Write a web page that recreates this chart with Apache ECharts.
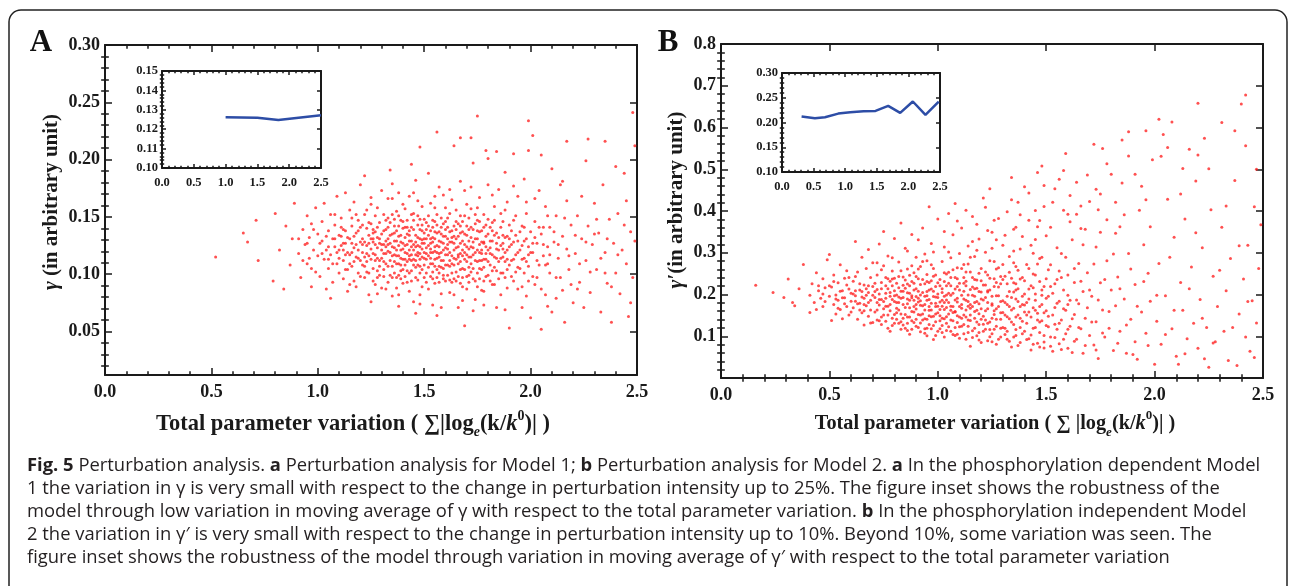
<!DOCTYPE html>
<html>
<head>
<meta charset="utf-8">
<script src="https://cdn.jsdelivr.net/npm/echarts@6/dist/echarts.min.js"></script>
<style>
  html, body { margin: 0; padding: 0; background: #fff; }
  #chart { width: 1290px; height: 586px; }
</style>
</head>
<body>
<div id="chart"></div>
<script>
// ---- data ----
// panel A: gamma vs total parameter variation (estimated cloud, outer part)
const scatterAEdge = [
  [0.52,0.115],[0.65,0.136],[0.67,0.128],[0.71,0.147],[0.72,0.112],[0.79,0.094],[0.80,0.153],[0.82,0.121],[0.84,0.087],[0.85,0.142],[0.87,0.108],[0.88,0.131],[0.89,0.162],
  [0.91,0.118],[0.92,0.097],[0.93,0.139],[0.94,0.126],[0.95,0.151],[0.95,0.109],[0.96,0.132],[0.97,0.089],[0.97,0.144],[0.98,0.121],[0.99,0.102],[0.99,0.158],[1.00,0.135],[0.96,0.114],
  [1.01,0.127],[1.01,0.098],[1.02,0.146],[1.03,0.113],[1.03,0.162],[1.04,0.121],[1.04,0.087],[1.05,0.138],[1.05,0.105],[1.06,0.152],[1.06,0.117],[1.07,0.131],[1.07,0.093],[1.08,0.143],[1.08,0.124],[1.09,0.109],[1.09,0.168],[1.10,0.134],[1.10,0.101],[1.02,0.129],[1.06,0.079],[1.09,0.119],
  [1.11,0.125],[1.11,0.149],[1.12,0.112],[1.12,0.096],[1.13,0.138],[1.13,0.171],[1.14,0.119],[1.14,0.085],[1.15,0.131],[1.15,0.156],[1.16,0.107],[1.16,0.142],[1.17,0.123],[1.17,0.094],[1.17,0.163],[1.18,0.115],[1.18,0.136],[1.19,0.101],[1.19,0.147],[1.20,0.128],[1.20,0.178],[1.11,0.133],[1.13,0.117],[1.15,0.091],[1.16,0.127],[1.18,0.152],[1.19,0.121],[1.12,0.139],[1.14,0.104],[1.20,0.112],
  [1.21,0.119],[1.21,0.143],[1.22,0.097],[1.22,0.128],[1.23,0.156],[1.23,0.111],[1.24,0.134],[1.24,0.082],[1.25,0.122],[1.25,0.167],[1.26,0.105],[1.26,0.139],[1.27,0.126],[1.27,0.091],[1.27,0.151],[1.28,0.114],[1.28,0.132],[1.29,0.099],[1.29,0.145],[1.30,0.121],[1.30,0.173],[1.21,0.108],[1.22,0.186],[1.23,0.125],[1.24,0.116],[1.25,0.144],[1.25,0.076],[1.26,0.118],[1.27,0.137],[1.28,0.103],[1.28,0.158],[1.29,0.127],[1.30,0.088],[1.23,0.140],[1.26,0.131],[1.29,0.112],
  [1.31,0.126],[1.31,0.104],[1.31,0.152],[1.32,0.118],[1.32,0.139],[1.33,0.093],[1.33,0.131],[1.33,0.166],[1.34,0.112],[1.34,0.145],[1.35,0.124],[1.35,0.081],[1.35,0.179],[1.36,0.117],[1.36,0.136],[1.36,0.101],[1.37,0.129],[1.37,0.155],[1.38,0.109],[1.38,0.142],[1.38,0.072],[1.39,0.121],[1.39,0.134],[1.39,0.096],[1.40,0.127],[1.40,0.161],[1.40,0.113],[1.32,0.129],[1.32,0.087],[1.34,0.127],[1.34,0.191],[1.35,0.107],[1.36,0.148],[1.37,0.116],[1.37,0.088],[1.38,0.125],[1.38,0.171],[1.39,0.108],[1.31,0.138],[1.33,0.120],[1.36,0.123],[1.40,0.140],
  [1.41,0.119],[1.41,0.132],[1.41,0.098],[1.42,0.147],[1.42,0.111],[1.42,0.126],[1.43,0.085],[1.43,0.138],[1.43,0.168],[1.44,0.117],[1.44,0.129],[1.44,0.103],[1.45,0.153],[1.45,0.121],[1.45,0.076],[1.46,0.134],[1.46,0.112],[1.46,0.182],[1.47,0.125],[1.47,0.095],[1.47,0.143],[1.48,0.118],[1.48,0.131],[1.48,0.107],[1.49,0.159],[1.49,0.122],[1.49,0.089],[1.50,0.136],[1.50,0.114],[1.50,0.127],[1.41,0.157],[1.42,0.093],[1.43,0.121],[1.44,0.141],[1.45,0.108],[1.46,0.124],[1.46,0.066],[1.47,0.164],[1.48,0.139],[1.48,0.082],[1.49,0.115],[1.50,0.148],[1.44,0.196],[1.47,0.116],[1.43,0.113],[1.49,0.130],
  [1.51,0.123],[1.51,0.101],[1.51,0.145],[1.52,0.116],[1.52,0.134],[1.52,0.087],[1.53,0.127],[1.53,0.162],[1.53,0.109],[1.54,0.119],[1.54,0.141],[1.54,0.073],[1.55,0.131],[1.55,0.113],[1.55,0.120],[1.56,0.125],[1.56,0.152],[1.56,0.097],[1.57,0.118],[1.57,0.137],[1.57,0.176],[1.58,0.106],[1.58,0.128],[1.58,0.083],[1.59,0.144],[1.59,0.121],[1.59,0.112],[1.60,0.133],[1.60,0.094],[1.60,0.158],[1.51,0.131],[1.52,0.188],[1.53,0.119],[1.54,0.102],[1.55,0.146],[1.56,0.114],[1.56,0.064],[1.57,0.124],[1.58,0.149],[1.59,0.099],[1.60,0.117],[1.53,0.138],[1.55,0.092],[1.57,0.107],[1.59,0.169],[1.54,0.128],
  [1.61,0.126],[1.61,0.108],[1.61,0.149],[1.62,0.119],[1.62,0.137],[1.62,0.084],[1.63,0.128],[1.63,0.165],[1.63,0.101],[1.64,0.114],[1.64,0.142],[1.64,0.212],[1.65,0.123],[1.65,0.094],[1.65,0.156],[1.66,0.117],[1.66,0.133],[1.66,0.071],[1.67,0.127],[1.67,0.104],[1.67,0.181],[1.68,0.121],[1.68,0.146],[1.68,0.089],[1.69,0.113],[1.69,0.135],[1.69,0.055],[1.70,0.124],[1.70,0.161],[1.70,0.098],[1.61,0.131],[1.62,0.095],[1.63,0.116],[1.64,0.127],[1.65,0.139],[1.66,0.109],[1.67,0.151],[1.68,0.116],[1.69,0.173],[1.70,0.111],[1.64,0.082],[1.67,0.118],
  [1.71,0.122],[1.71,0.139],[1.71,0.093],[1.72,0.115],[1.72,0.157],[1.73,0.128],[1.73,0.105],[1.73,0.197],[1.74,0.119],[1.74,0.144],[1.74,0.078],[1.75,0.131],[1.75,0.111],[1.76,0.126],[1.76,0.167],[1.76,0.096],[1.77,0.118],[1.77,0.138],[1.78,0.106],[1.78,0.152],[1.78,0.085],[1.79,0.124],[1.79,0.113],[1.80,0.135],[1.80,0.099],[1.80,0.178],[1.72,0.132],[1.73,0.068],[1.75,0.147],[1.75,0.089],[1.77,0.121],[1.78,0.128],[1.79,0.143],[1.79,0.208],[1.71,0.106],[1.76,0.112],
  [1.81,0.118],[1.81,0.141],[1.82,0.103],[1.82,0.129],[1.83,0.159],[1.83,0.091],[1.84,0.122],[1.84,0.136],[1.85,0.111],[1.85,0.174],[1.86,0.125],[1.86,0.082],[1.87,0.146],[1.87,0.115],[1.88,0.132],[1.88,0.097],[1.89,0.121],[1.89,0.163],[1.90,0.108],[1.90,0.053],[1.81,0.094],[1.83,0.134],[1.84,0.071],[1.86,0.153],[1.87,0.127],[1.88,0.189],[1.89,0.113],[1.82,0.117],
  [1.91,0.126],[1.91,0.098],[1.92,0.147],[1.92,0.113],[1.93,0.134],[1.94,0.087],[1.94,0.168],[1.95,0.121],[1.95,0.105],[1.96,0.142],[1.96,0.071],[1.97,0.129],[1.97,0.183],[1.98,0.111],[1.98,0.153],[1.99,0.094],[1.99,0.124],[2.00,0.137],[2.00,0.062],[1.93,0.117],[1.97,0.101],[1.99,0.208],
  [2.01,0.119],[2.02,0.146],[2.02,0.091],[2.03,0.127],[2.04,0.173],[2.04,0.108],[2.05,0.052],[2.05,0.135],[2.06,0.116],[2.07,0.159],[2.07,0.082],[2.08,0.124],[2.09,0.101],[2.09,0.141],[2.10,0.067],[2.10,0.192],
  [2.11,0.128],[2.12,0.097],[2.12,0.151],[2.13,0.114],[2.14,0.178],[2.15,0.086],[2.15,0.133],[2.16,0.058],[2.17,0.122],[2.17,0.164],[2.18,0.104],[2.19,0.143],[2.20,0.075],
  [2.21,0.118],[2.22,0.151],[2.23,0.093],[2.24,0.131],[2.25,0.071],[2.26,0.199],[2.26,0.112],[2.27,0.142],[2.28,0.084],[2.29,0.126],[2.30,0.162],
  [2.31,0.104],[2.32,0.136],[2.33,0.067],[2.34,0.178],[2.35,0.119],[2.36,0.092],[2.37,0.148],[2.38,0.058],[2.39,0.127],[2.40,0.101],
  [2.41,0.153],[2.42,0.083],[2.43,0.121],[2.44,0.188],[2.45,0.109],[2.46,0.063],[2.47,0.137],[2.48,0.097],[2.49,0.129],[2.49,0.212],
  [1.56,0.224],[1.99,0.234],[2.01,0.221],[1.67,0.219],[1.72,0.219],[1.48,0.211],[2.27,0.218],[2.35,0.216],[2.17,0.216],[2.40,0.194],[1.75,0.238],[2.48,0.241],[1.84,0.207],[1.92,0.205],[1.80,0.201],[2.05,0.204]
];

// panel A: dense core of the cloud
const scatterACore = [
  [1.02,0.118],[1.04,0.133],[1.05,0.124],[1.07,0.109],[1.08,0.152],[1.10,0.121],[1.11,0.141],[1.12,0.127],[1.13,0.104],[1.14,0.132],[1.15,0.117],[1.16,0.149],[1.17,0.111],[1.18,0.126],[1.19,0.138],[1.20,0.098],[1.21,0.131],[1.22,0.115],[1.22,0.152],[1.23,0.102],[1.24,0.127],[1.24,0.145],[1.25,0.113],[1.26,0.128],[1.26,0.094],[1.27,0.117],[1.28,0.141],[1.28,0.123],[1.29,0.107],[1.30,0.135],[1.30,0.114],
  [1.31,0.098],[1.31,0.118],[1.32,0.147],[1.32,0.109],[1.33,0.126],[1.33,0.141],[1.34,0.099],[1.34,0.119],[1.35,0.135],[1.35,0.152],[1.36,0.111],[1.36,0.129],[1.37,0.097],[1.37,0.138],[1.38,0.116],[1.38,0.133],[1.39,0.147],[1.39,0.103],[1.40,0.122],[1.40,0.092],
  [1.41,0.108],[1.41,0.141],[1.42,0.118],[1.42,0.135],[1.43,0.101],[1.43,0.129],[1.44,0.152],[1.44,0.112],[1.45,0.126],[1.45,0.139],[1.46,0.097],[1.46,0.117],[1.47,0.132],[1.47,0.108],[1.48,0.124],[1.48,0.148],[1.49,0.104],[1.49,0.138],[1.50,0.119],[1.50,0.097],
  [1.51,0.113],[1.51,0.139],[1.52,0.125],[1.52,0.151],[1.53,0.098],[1.53,0.114],[1.54,0.132],[1.54,0.109],[1.55,0.124],[1.55,0.158],[1.56,0.104],[1.56,0.136],[1.57,0.115],[1.57,0.093],[1.58,0.119],[1.58,0.141],[1.59,0.127],[1.59,0.105],[1.60,0.123],[1.60,0.146],
  [1.61,0.099],[1.61,0.117],[1.62,0.128],[1.62,0.153],[1.63,0.109],[1.63,0.138],[1.64,0.121],[1.64,0.096],[1.65,0.131],[1.65,0.113],[1.66,0.144],[1.66,0.124],[1.67,0.092],[1.67,0.136],[1.68,0.105],[1.68,0.129],[1.69,0.119],[1.69,0.151],[1.70,0.134],[1.70,0.087],
  [1.71,0.115],[1.71,0.149],[1.72,0.102],[1.72,0.124],[1.73,0.139],[1.73,0.117],[1.74,0.094],[1.74,0.131],[1.75,0.121],[1.75,0.158],[1.76,0.105],[1.76,0.137],[1.77,0.112],[1.77,0.086],[1.78,0.127],[1.78,0.141],[1.79,0.098],[1.79,0.118],[1.80,0.148],[1.80,0.121],
  [1.81,0.108],[1.81,0.129],[1.82,0.138],[1.82,0.091],[1.83,0.115],[1.83,0.147],[1.84,0.103],[1.84,0.127],[1.85,0.132],[1.85,0.096],[1.86,0.114],[1.86,0.141],[1.87,0.101],[1.87,0.122],[1.88,0.156],[1.88,0.111],[1.89,0.133],[1.89,0.088],[1.90,0.124],[1.90,0.143],
  [1.91,0.112],[1.92,0.128],[1.92,0.094],[1.93,0.151],[1.94,0.119],[1.94,0.106],[1.95,0.137],[1.96,0.125],[1.96,0.089],[1.97,0.114],[1.98,0.131],[1.98,0.163],[1.99,0.107],[2.00,0.119],
  [2.01,0.098],[2.02,0.132],[2.03,0.112],[2.04,0.141],[2.05,0.087],[2.06,0.126],[2.07,0.108],[2.08,0.151],[2.09,0.117],[2.11,0.137],[2.12,0.079],[2.13,0.126],[2.14,0.097],[2.16,0.149],[2.18,0.116],[2.19,0.091],
  [2.21,0.134],[2.23,0.109],[2.24,0.168],[2.26,0.128],[2.28,0.102],[2.31,0.148],[2.33,0.114],[2.36,0.131],[2.38,0.089],[2.41,0.117],[2.44,0.143],[2.47,0.075],
  [0.91,0.131],[0.93,0.112],[0.95,0.127],[0.97,0.105],[0.98,0.139],[1.00,0.116],
  [1.25,0.161],[1.35,0.166],[1.45,0.171],[1.55,0.168],[1.62,0.174],[1.72,0.176],[1.82,0.169],[1.92,0.177],[2.02,0.166],
  [1.38,0.082],[1.48,0.074],[1.58,0.071],[1.68,0.077],[1.78,0.073],[1.88,0.069],[1.98,0.081],[1.28,0.083],[1.18,0.089],[2.08,0.072],
  [2.15,0.181],[2.22,0.087],[2.30,0.135],[2.35,0.101],[2.45,0.164]
];

// panel A: centre of the core, where dots overlap most
const scatterACentre = [
  [1.12,0.121],[1.15,0.109],[1.17,0.133],[1.19,0.114],[1.21,0.126],[1.23,0.118],[1.24,0.101],[1.26,0.136],[1.27,0.112],[1.28,0.097],[1.29,0.131],[1.30,0.126],
  [1.31,0.111],[1.32,0.124],[1.33,0.107],[1.33,0.149],[1.34,0.134],[1.35,0.116],[1.35,0.097],[1.36,0.142],[1.37,0.121],[1.37,0.109],[1.38,0.151],[1.38,0.099],[1.39,0.114],[1.39,0.128],[1.40,0.104],[1.40,0.146],
  [1.41,0.125],[1.41,0.113],[1.42,0.103],[1.42,0.141],[1.43,0.116],[1.43,0.134],[1.44,0.124],[1.44,0.094],[1.45,0.113],[1.45,0.147],[1.46,0.128],[1.46,0.106],[1.47,0.119],[1.47,0.151],[1.48,0.101],[1.48,0.113],[1.49,0.127],[1.49,0.143],[1.50,0.108],[1.50,0.131],
  [1.51,0.118],[1.51,0.093],[1.52,0.106],[1.52,0.142],[1.53,0.131],[1.53,0.122],[1.54,0.096],[1.54,0.147],[1.55,0.107],[1.55,0.137],[1.56,0.119],[1.56,0.143],[1.57,0.101],[1.57,0.129],[1.58,0.112],[1.58,0.135],[1.59,0.096],[1.59,0.133],[1.60,0.108],[1.60,0.139],
  [1.61,0.122],[1.61,0.141],[1.62,0.107],[1.62,0.112],[1.63,0.132],[1.63,0.093],[1.64,0.133],[1.64,0.108],[1.65,0.102],[1.65,0.146],[1.66,0.115],[1.66,0.098],[1.67,0.142],[1.67,0.111],[1.68,0.137],[1.68,0.097],[1.69,0.126],[1.69,0.104],[1.70,0.117],[1.70,0.142],
  [1.71,0.129],[1.71,0.099],[1.72,0.141],[1.72,0.109],[1.73,0.123],[1.73,0.096],[1.74,0.112],[1.74,0.152],[1.75,0.101],[1.75,0.138],[1.76,0.119],[1.76,0.146],[1.77,0.128],[1.77,0.104],[1.78,0.113],[1.78,0.094],[1.79,0.133],[1.80,0.111],
  [1.81,0.123],[1.82,0.145],[1.83,0.106],[1.84,0.114],[1.85,0.121],[1.86,0.101],[1.87,0.134],[1.88,0.119],[1.89,0.104],[1.90,0.131],[1.91,0.138],[1.93,0.102],[1.94,0.129],[1.96,0.113],[1.97,0.141],[1.99,0.117],
  [2.01,0.127],[2.03,0.097],[2.06,0.141],[2.08,0.109],[1.05,0.113],[1.08,0.131],[1.10,0.114],[1.13,0.127],[1.16,0.119],[1.20,0.141],[1.25,0.131],[1.22,0.107]
];

// panel B: gamma' vs total parameter variation (estimated cloud, outer part)
const scatterBEdge = [
  [0.16,0.222],[0.24,0.205],[0.29,0.193],[0.31,0.237],[0.33,0.181],[0.34,0.173],[0.36,0.214],[0.38,0.272],
  [0.41,0.157],[0.41,0.198],[0.42,0.226],[0.43,0.181],[0.44,0.252],[0.44,0.164],[0.45,0.209],[0.46,0.191],[0.47,0.238],[0.47,0.171],[0.48,0.216],[0.49,0.283],[0.50,0.196],
  [0.50,0.296],[0.51,0.138],[0.51,0.218],[0.52,0.176],[0.52,0.247],[0.53,0.199],[0.53,0.153],[0.54,0.228],[0.54,0.186],[0.55,0.271],[0.55,0.164],[0.56,0.209],[0.56,0.142],[0.57,0.239],[0.57,0.192],[0.58,0.171],[0.58,0.257],[0.59,0.213],[0.59,0.151],[0.60,0.184],
  [0.61,0.232],[0.61,0.168],[0.62,0.327],[0.62,0.197],[0.63,0.141],[0.63,0.254],[0.64,0.211],[0.64,0.179],[0.65,0.289],[0.65,0.156],[0.66,0.223],[0.66,0.127],[0.66,0.191],[0.67,0.262],[0.67,0.173],[0.68,0.205],[0.68,0.308],[0.68,0.148],[0.69,0.241],[0.69,0.186],[0.70,0.219],[0.70,0.133],[0.62,0.209],[0.64,0.163],[0.67,0.198],[0.70,0.276],
  [0.71,0.193],[0.71,0.158],[0.72,0.247],[0.72,0.212],[0.73,0.175],[0.73,0.321],[0.73,0.137],[0.74,0.229],[0.74,0.188],[0.75,0.269],[0.75,0.151],[0.75,0.351],[0.76,0.203],[0.76,0.172],[0.77,0.238],[0.77,0.119],[0.77,0.292],[0.78,0.196],[0.78,0.161],[0.78,0.112],[0.79,0.221],[0.79,0.256],[0.79,0.143],[0.80,0.183],[0.80,0.334],[0.80,0.209],[0.72,0.181],[0.74,0.128],[0.76,0.221],[0.78,0.232],
  [0.81,0.167],[0.81,0.227],[0.82,0.194],[0.82,0.131],[0.82,0.278],[0.83,0.371],[0.83,0.208],[0.83,0.153],[0.84,0.242],[0.84,0.176],[0.85,0.119],[0.85,0.215],[0.85,0.311],[0.86,0.189],[0.86,0.146],[0.86,0.261],[0.87,0.203],[0.87,0.105],[0.87,0.168],[0.88,0.231],[0.88,0.344],[0.88,0.137],[0.89,0.186],[0.89,0.252],[0.89,0.158],[0.90,0.214],[0.90,0.124],[0.90,0.289],[0.81,0.199],[0.83,0.117],[0.84,0.143],[0.86,0.225],[0.88,0.197],[0.90,0.176],
  [0.91,0.152],[0.91,0.238],[0.91,0.191],[0.92,0.111],[0.92,0.267],[0.92,0.174],[0.93,0.205],[0.93,0.359],[0.93,0.139],[0.94,0.226],[0.94,0.163],[0.94,0.297],[0.95,0.186],[0.95,0.101],[0.95,0.248],[0.96,0.211],[0.96,0.128],[0.96,0.410],[0.96,0.171],[0.97,0.233],[0.97,0.147],[0.97,0.322],[0.98,0.195],[0.98,0.092],[0.98,0.262],[0.99,0.179],[0.99,0.135],[0.99,0.219],[1.00,0.381],[1.00,0.156],[1.00,0.201],[0.92,0.199],[0.94,0.118],[0.95,0.207],[0.97,0.179],[0.99,0.247],
  [1.01,0.118],[1.01,0.236],[1.01,0.182],[1.02,0.143],[1.02,0.279],[1.02,0.205],[1.03,0.164],[1.03,0.098],[1.03,0.314],[1.04,0.221],[1.04,0.187],[1.04,0.131],[1.05,0.253],[1.05,0.153],[1.05,0.394],[1.06,0.198],[1.06,0.112],[1.06,0.241],[1.07,0.171],[1.07,0.343],[1.07,0.137],[1.08,0.213],[1.08,0.418],[1.08,0.159],[1.09,0.264],[1.09,0.105],[1.09,0.191],[1.10,0.227],[1.10,0.146],[1.10,0.298],[1.02,0.172],[1.04,0.249],[1.06,0.162],[1.08,0.121],[1.09,0.219],[1.03,0.196],
  [1.11,0.176],[1.11,0.124],[1.11,0.359],[1.12,0.208],[1.12,0.151],[1.12,0.272],[1.13,0.093],[1.13,0.232],[1.13,0.186],[1.14,0.139],[1.14,0.316],[1.14,0.199],[1.15,0.167],[1.15,0.076],[1.15,0.254],[1.16,0.218],[1.16,0.113],[1.16,0.387],[1.17,0.181],[1.17,0.143],[1.17,0.291],[1.18,0.235],[1.18,0.101],[1.18,0.162],[1.19,0.207],[1.19,0.333],[1.19,0.128],[1.20,0.189],[1.20,0.262],[1.20,0.085],[1.12,0.241],[1.14,0.172],[1.17,0.214],[1.19,0.154],
  [1.21,0.148],[1.21,0.223],[1.21,0.431],[1.22,0.117],[1.22,0.193],[1.22,0.301],[1.23,0.166],[1.23,0.089],[1.23,0.247],[1.24,0.453],[1.24,0.134],[1.24,0.211],[1.25,0.178],[1.25,0.349],[1.25,0.106],[1.26,0.238],[1.26,0.152],[1.26,0.279],[1.27,0.081],[1.27,0.197],[1.27,0.124],[1.28,0.264],[1.28,0.171],[1.28,0.382],[1.29,0.141],[1.29,0.226],[1.29,0.098],[1.30,0.185],[1.30,0.318],[1.30,0.157],[1.23,0.206],[1.27,0.229],
  [1.31,0.119],[1.31,0.244],[1.32,0.176],[1.32,0.398],[1.32,0.093],[1.33,0.207],[1.33,0.142],[1.33,0.291],[1.34,0.480],[1.34,0.163],[1.34,0.074],[1.35,0.228],[1.35,0.128],[1.35,0.356],[1.36,0.189],[1.36,0.102],[1.36,0.267],[1.37,0.151],[1.37,0.421],[1.37,0.214],[1.38,0.085],[1.38,0.171],[1.38,0.309],[1.39,0.136],[1.39,0.241],[1.39,0.196],[1.40,0.112],[1.40,0.458],[1.40,0.158],[1.36,0.226],
  [1.41,0.272],[1.41,0.181],[1.42,0.094],[1.42,0.213],[1.42,0.378],[1.43,0.146],[1.43,0.067],[1.44,0.249],[1.44,0.168],[1.45,0.332],[1.45,0.121],[1.45,0.201],[1.46,0.492],[1.46,0.083],[1.46,0.155],[1.47,0.231],[1.47,0.109],[1.47,0.286],[1.48,0.508],[1.48,0.176],[1.48,0.137],[1.49,0.411],[1.49,0.219],[1.49,0.072],[1.50,0.191],[1.50,0.126],
  [1.51,0.259],[1.51,0.148],[1.52,0.098],[1.52,0.361],[1.53,0.203],[1.53,0.064],[1.54,0.169],[1.54,0.453],[1.55,0.117],[1.55,0.236],[1.56,0.184],[1.56,0.082],[1.57,0.298],[1.57,0.139],[1.58,0.211],[1.58,0.497],[1.59,0.538],[1.59,0.106],[1.59,0.162],[1.60,0.247],[1.60,0.071],[1.60,0.392],
  [1.61,0.186],[1.61,0.124],[1.62,0.331],[1.62,0.061],[1.63,0.229],[1.63,0.152],[1.64,0.469],[1.64,0.093],[1.65,0.274],[1.65,0.178],[1.66,0.118],[1.66,0.412],[1.67,0.207],[1.67,0.059],[1.68,0.143],[1.68,0.356],[1.69,0.252],[1.70,0.102],
  [1.71,0.196],[1.72,0.560],[1.72,0.079],[1.73,0.314],[1.73,0.135],[1.74,0.047],[1.75,0.228],[1.75,0.441],[1.76,0.550],[1.76,0.163],[1.77,0.098],[1.78,0.281],[1.78,0.379],[1.79,0.119],[1.80,0.211],
  [1.81,0.066],[1.82,0.173],[1.82,0.347],[1.83,0.242],[1.84,0.112],[1.85,0.570],[1.85,0.467],[1.86,0.189],[1.87,0.059],[1.88,0.590],[1.88,0.298],[1.89,0.141],
  [1.91,0.224],[1.91,0.087],[1.92,0.045],[1.93,0.402],[1.94,0.158],[1.95,0.319],[1.96,0.592],[1.96,0.107],[1.97,0.251],[1.98,0.184],[1.99,0.523],
  [2.00,0.033],[2.01,0.136],[2.02,0.620],[2.02,0.274],[2.03,0.081],[2.04,0.583],[2.05,0.197],[2.06,0.428],[2.08,0.613],[2.08,0.118],[2.09,0.337],[2.10,0.052],
  [2.11,0.033],[2.12,0.229],[2.13,0.162],[2.14,0.381],[2.15,0.094],[2.16,0.548],[2.17,0.266],[2.18,0.131],[2.19,0.472],[2.20,0.658],[2.20,0.534],[2.20,0.071],
  [2.21,0.188],[2.22,0.312],[2.23,0.046],[2.24,0.121],[2.25,0.026],[2.26,0.403],[2.27,0.244],[2.28,0.087],[2.29,0.171],
  [2.31,0.361],[2.32,0.112],[2.33,0.209],[2.34,0.042],[2.35,0.286],[2.37,0.592],[2.37,0.473],[2.38,0.030],[2.39,0.153],[2.40,0.656],
  [2.41,0.237],[2.42,0.556],[2.42,0.098],[2.43,0.318],[2.44,0.064],[2.45,0.185],[2.46,0.410],[2.47,0.500],[2.47,0.132],[2.48,0.262],[2.42,0.678]
];

// panel B: dense core and middle of the funnel
const scatterBCore = [
  [0.45,0.221],[0.48,0.183],[0.52,0.231],[0.54,0.167],[0.56,0.192],[0.58,0.223],[0.60,0.158],[0.61,0.201],[0.62,0.243],[0.63,0.178],[0.64,0.226],[0.65,0.194],[0.66,0.161],[0.67,0.214],[0.68,0.181],[0.69,0.132],[0.70,0.198],
  [0.71,0.227],[0.72,0.163],[0.73,0.201],[0.74,0.146],[0.74,0.259],[0.75,0.183],[0.76,0.136],[0.76,0.241],[0.77,0.172],[0.78,0.205],[0.79,0.126],[0.79,0.188],[0.80,0.152],[0.80,0.239],
  [0.81,0.181],[0.81,0.141],[0.82,0.216],[0.82,0.163],[0.83,0.191],[0.83,0.257],[0.84,0.127],[0.84,0.208],[0.85,0.169],[0.85,0.235],[0.86,0.114],[0.86,0.178],[0.87,0.221],[0.87,0.146],[0.88,0.192],[0.88,0.269],[0.89,0.133],[0.89,0.211],[0.90,0.165],[0.90,0.243],
  [0.91,0.121],[0.91,0.182],[0.92,0.224],[0.92,0.151],[0.93,0.173],[0.93,0.279],[0.94,0.107],[0.94,0.196],[0.95,0.141],[0.95,0.231],[0.96,0.162],[0.96,0.188],[0.97,0.118],[0.97,0.213],[0.98,0.148],[0.98,0.244],[0.99,0.171],[0.99,0.102],[1.00,0.193],[1.00,0.228],
  [1.01,0.137],[1.01,0.164],[1.02,0.214],[1.02,0.109],[1.03,0.181],[1.03,0.252],[1.04,0.147],[1.04,0.199],[1.05,0.123],[1.05,0.227],[1.06,0.172],[1.06,0.288],[1.07,0.104],[1.07,0.203],[1.08,0.158],[1.08,0.241],[1.09,0.133],[1.09,0.182],[1.10,0.211],[1.10,0.095],
  [1.11,0.167],[1.11,0.262],[1.12,0.128],[1.12,0.189],[1.13,0.146],[1.13,0.221],[1.14,0.109],[1.14,0.273],[1.15,0.176],[1.15,0.138],[1.16,0.198],[1.16,0.241],[1.17,0.119],[1.17,0.159],[1.18,0.215],[1.18,0.306],[1.19,0.091],[1.19,0.178],[1.20,0.141],[1.20,0.233],
  [1.21,0.112],[1.21,0.187],[1.22,0.254],[1.22,0.161],[1.23,0.131],[1.23,0.209],[1.24,0.099],[1.24,0.281],[1.25,0.174],[1.25,0.143],[1.26,0.219],[1.26,0.117],[1.27,0.166],[1.27,0.331],[1.28,0.093],[1.28,0.197],[1.29,0.243],[1.29,0.156],[1.30,0.121],[1.30,0.272],
  [1.31,0.181],[1.31,0.104],[1.32,0.226],[1.32,0.147],[1.33,0.088],[1.33,0.253],[1.34,0.193],[1.34,0.134],[1.35,0.167],[1.35,0.304],[1.36,0.116],[1.36,0.211],[1.37,0.078],[1.37,0.183],[1.38,0.237],[1.38,0.143],[1.39,0.106],[1.39,0.339],[1.40,0.201],[1.40,0.175],
  [1.41,0.131],[1.41,0.092],[1.42,0.262],[1.42,0.158],[1.43,0.221],[1.43,0.318],[1.44,0.119],[1.44,0.081],[1.45,0.186],[1.45,0.247],[1.46,0.139],[1.46,0.362],[1.47,0.171],[1.47,0.074],[1.48,0.211],[1.48,0.289],[1.49,0.102],[1.49,0.156],[1.50,0.238],[1.50,0.341],
  [1.51,0.123],[1.51,0.196],[1.52,0.076],[1.52,0.271],[1.53,0.151],[1.54,0.226],[1.54,0.097],[1.55,0.312],[1.55,0.179],[1.56,0.131],[1.57,0.241],[1.57,0.068],[1.58,0.166],[1.59,0.289],[1.60,0.117],[1.60,0.198],
  [1.61,0.374],[1.62,0.142],[1.63,0.088],[1.63,0.262],[1.64,0.187],[1.65,0.121],[1.66,0.232],[1.67,0.319],[1.68,0.078],[1.69,0.168],[1.70,0.211],[1.70,0.423],
  [1.71,0.134],[1.72,0.273],[1.73,0.067],[1.74,0.187],[1.75,0.349],[1.76,0.108],[1.77,0.236],[1.79,0.159],[1.80,0.488],[1.81,0.297],[1.83,0.083],[1.84,0.214],[1.86,0.391],[1.87,0.127],[1.89,0.261],[1.90,0.056],
  [1.92,0.172],[1.94,0.459],[1.95,0.231],[1.97,0.078],[1.98,0.362],[2.01,0.198],[2.03,0.531],[2.05,0.104],[2.07,0.289],[2.09,0.162],[2.12,0.441],[2.14,0.058],[2.16,0.214],[2.19,0.348],
  [2.22,0.143],[2.25,0.501],[2.27,0.084],[2.30,0.258],[2.33,0.412],[2.36,0.121],[2.39,0.317],[2.43,0.183],[2.46,0.049],[2.49,0.367],
  [0.98,0.302],[1.03,0.351],[1.09,0.376],[1.13,0.402],[1.18,0.368],[1.22,0.409],[1.26,0.378],[1.31,0.342],[1.34,0.427],[1.38,0.391],[1.42,0.443],[1.45,0.401],[1.49,0.461],[1.53,0.421],
  [1.56,0.476],[1.61,0.437],[1.64,0.392],[1.69,0.486],[1.73,0.452],[1.78,0.513],[1.82,0.421],[1.88,0.532],[1.91,0.488],[1.96,0.427],[2.06,0.552],[2.13,0.502],[2.23,0.574],[2.31,0.612],
  [0.86,0.304],[0.91,0.331],[0.79,0.288],[0.72,0.276],[1.16,0.327],[1.23,0.353],[1.36,0.361],[1.47,0.377],[1.58,0.402],[1.66,0.358],[1.74,0.403],[1.84,0.362]
];

// panel B: centre of the core, where dots overlap most
const scatterBCentre = [
  [0.62,0.184],[0.65,0.207],[0.66,0.176],[0.68,0.221],[0.69,0.163],[0.71,0.207],[0.72,0.139],[0.73,0.188],[0.74,0.214],[0.75,0.166],[0.76,0.191],[0.77,0.151],[0.77,0.214],[0.78,0.176],[0.79,0.237],[0.80,0.131],[0.80,0.197],
  [0.81,0.156],[0.82,0.243],[0.82,0.181],[0.83,0.135],[0.84,0.193],[0.84,0.222],[0.85,0.152],[0.86,0.204],[0.86,0.131],[0.87,0.186],[0.87,0.246],[0.88,0.159],[0.88,0.117],[0.89,0.227],[0.89,0.171],[0.90,0.141],[0.90,0.195],
  [0.91,0.208],[0.91,0.261],[0.92,0.132],[0.92,0.185],[0.93,0.153],[0.93,0.236],[0.94,0.176],[0.94,0.142],[0.95,0.197],[0.95,0.119],[0.96,0.229],[0.96,0.149],[0.97,0.163],[0.97,0.271],[0.98,0.126],[0.98,0.208],[0.99,0.153],[0.99,0.194],[1.00,0.112],[1.00,0.172],
  [1.01,0.221],[1.01,0.149],[1.02,0.186],[1.02,0.126],[1.03,0.142],[1.03,0.231],[1.04,0.169],[1.04,0.114],[1.05,0.203],[1.05,0.181],[1.06,0.139],[1.06,0.221],[1.07,0.157],[1.07,0.259],[1.08,0.187],[1.08,0.102],[1.09,0.149],[1.09,0.238],[1.10,0.171],[1.10,0.123],
  [1.11,0.198],[1.11,0.143],[1.12,0.227],[1.12,0.106],[1.13,0.163],[1.13,0.254],[1.14,0.183],[1.14,0.124],[1.15,0.212],[1.15,0.151],[1.16,0.097],[1.16,0.171],[1.17,0.236],[1.17,0.196],[1.18,0.134],[1.18,0.183],[1.19,0.251],[1.19,0.109],[1.20,0.166],[1.20,0.206],
  [1.21,0.129],[1.22,0.223],[1.22,0.139],[1.23,0.181],[1.24,0.116],[1.24,0.239],[1.25,0.196],[1.25,0.087],[1.26,0.161],[1.27,0.261],[1.27,0.141],[1.28,0.218],[1.29,0.119],[1.29,0.183],[1.30,0.236],
  [1.31,0.151],[1.32,0.196],[1.32,0.112],[1.33,0.171],[1.34,0.239],[1.35,0.098],[1.35,0.206],[1.36,0.146],[1.37,0.258],[1.38,0.121],[1.39,0.176],[1.40,0.233],
  [1.41,0.151],[1.42,0.189],[1.43,0.103],[1.44,0.216],[1.45,0.162],[1.46,0.273],[1.47,0.134],[1.48,0.198],[1.49,0.086],[1.50,0.161],[1.52,0.219],[1.54,0.129],[1.56,0.256],[1.58,0.093],[1.60,0.176],
  [0.55,0.208],[0.57,0.178],[0.59,0.241],[0.60,0.203],[0.53,0.189],[0.50,0.221],[0.47,0.201],[1.05,0.302],[1.15,0.289],[1.25,0.311],[1.35,0.276],[0.95,0.281],[1.44,0.299]
];

// insets: moving average
const insetA = [[1.0,0.1262],[1.5,0.1259],[1.83,0.1247],[2.5,0.1272]];
const insetB = [[0.31,0.2120],[0.52,0.2085],[0.68,0.2105],[0.89,0.2180],[1.08,0.2207],[1.29,0.2227],[1.48,0.2234],[1.68,0.2336],[1.87,0.2193],[2.07,0.2424],[2.27,0.2153],[2.48,0.2424]];

// tick values
const xMajor = [0, 0.5, 1.0, 1.5, 2.0, 2.5];
const aYMajor = [0.05, 0.10, 0.15, 0.20, 0.25, 0.30];
const bYMajor = [0.1, 0.2, 0.3, 0.4, 0.5, 0.6, 0.7, 0.8];
const iaYMajor = [0.10, 0.11, 0.12, 0.13, 0.14, 0.15];
const ibYMajor = [0.10, 0.15, 0.20, 0.25, 0.30];

const captionLines = [
  '{b|Fig. 5} Perturbation analysis. {b|a} Perturbation analysis for Model 1; {b|b} Perturbation analysis for Model 2. {b|a} In the phosphorylation dependent Model',
  '1 the variation in γ is very small with respect to the change in perturbation intensity up to 25%. The figure inset shows the robustness of the',
  'model through low variation in moving average of γ with respect to the total parameter variation. {b|b} In the phosphorylation independent Model',
  '2 the variation in γ′ is very small with respect to the change in perturbation intensity up to 10%. Beyond 10%, some variation was seen. The',
  'figure inset shows the robustness of the model through variation in moving average of γ′ with respect to the total parameter variation'
];

// minor ticks between min and max with given step, skipping majors
function minorTicks(min, max, step, majors) {
  const out = [];
  for (let k = Math.ceil(min / step - 1e-9); k * step <= max + 1e-9; k++) {
    const v = +(k * step).toFixed(4);
    if (!majors.some(m => Math.abs(m - v) < 1e-7)) out.push(v);
  }
  return out;
}

const INK = '#1a1a1a';
const SERIF = 'Liberation Serif';

function sideAxes(gridIndex, dim, min, max, major, minor, fmt, fontSize, margin, tickLen) {
  const pos = dim === 'x' ? ['bottom', 'top'] : ['left', 'right'];
  const out = [];
  pos.forEach((p, i) => {
    out.push({
      gridIndex, type: 'value', min, max, position: p,
      axisLine: { show: true, onZero: false, lineStyle: { color: INK, width: 2 } },
      axisTick: { show: true, inside: true, length: tickLen, customValues: major, lineStyle: { color: INK, width: 1.5 } },
      axisLabel: {
        show: i === 0, customValues: major, formatter: fmt, margin,
        fontFamily: SERIF, fontWeight: 'bold', fontSize, color: INK
      },
      splitLine: { show: false }
    });
    out.push({
      gridIndex, type: 'value', min, max, position: p,
      axisLine: { show: false },
      axisTick: { show: true, inside: true, length: tickLen * 0.55, customValues: minor, lineStyle: { color: INK, width: 1.5 } },
      axisLabel: { show: false },
      splitLine: { show: false }
    });
  });
  return out;
}

const f1 = v => v.toFixed(1);
const f2 = v => v.toFixed(2);

const xAxes = [].concat(
  sideAxes(0, 'x', 0, 2.5, xMajor, minorTicks(0, 2.5, 0.1, xMajor), f1, 18, 8, 7),
  sideAxes(1, 'x', 0, 2.5, xMajor, minorTicks(0, 2.5, 0.1, xMajor), f1, 18, 8, 7),
  sideAxes(2, 'x', 0, 2.5, xMajor, minorTicks(0, 2.5, 0.1, xMajor), f1, 12.5, 8, 4),
  sideAxes(3, 'x', 0, 2.5, xMajor, minorTicks(0, 2.5, 0.1, xMajor), f1, 12.5, 8, 4)
);
const yAxes = [].concat(
  sideAxes(0, 'y', 0.012, 0.30, aYMajor, minorTicks(0.012, 0.30, 0.01, aYMajor), f2, 18, 5, 7),
  sideAxes(1, 'y', 0, 0.8, bYMajor, minorTicks(0, 0.8, 0.02, bYMajor.concat([0])), f1, 18, 5, 7),
  sideAxes(2, 'y', 0.10, 0.15, iaYMajor, minorTicks(0.10, 0.15, 0.002, iaYMajor), f2, 12.5, 4, 4),
  sideAxes(3, 'y', 0.10, 0.30, ibYMajor, minorTicks(0.10, 0.30, 0.01, ibYMajor), f2, 12.5, 4, 4)
);

function titleRich(size) {
  const small = Math.round(size * 0.62);
  return {
    n: { fontFamily: SERIF, fontWeight: 'bold', fontSize: size, lineHeight: 30, fill: INK },
    i: { fontFamily: SERIF, fontWeight: 'bold', fontStyle: 'italic', fontSize: size, lineHeight: 30, fill: INK },
    s: { fontFamily: SERIF, fontWeight: 'bold', fontStyle: 'italic', fontSize: small, lineHeight: 13, verticalAlign: 'bottom', fill: INK },
    p: { fontFamily: SERIF, fontWeight: 'bold', fontSize: small, lineHeight: 15, verticalAlign: 'top', fill: INK }
  };
}

function xTitle(cx, cy, sumGap, size) {
  return {
    type: 'text', x: cx, y: cy,
    style: {
      text: '{n|Total parameter variation ( ∑' + sumGap + '|log}{s|e}{n|(k/}{i|k}{p|0}{n|)| )}',
      rich: titleRich(size), align: 'center', verticalAlign: 'middle'
    }
  };
}

function yTitle(cx, cy, sym, size) {
  return {
    type: 'text', x: cx, y: cy, rotation: Math.PI / 2,
    style: {
      text: '{i|' + sym + '}{n|(in arbitrary unit)}',
      rich: titleRich(size), align: 'center', verticalAlign: 'middle'
    }
  };
}

const capRich = {
  r: { fontFamily: 'Open Sans', fontSize: 18.4, fill: '#231f20' },
  b: { fontFamily: 'Open Sans', fontWeight: 'bold', fontSize: 18.4, fill: '#231f20' }
};

const graphics = [
  {
    type: 'rect', shape: { x: 9, y: 10, width: 1278, height: 620, r: 12 },
    style: { fill: 'none', stroke: '#222', lineWidth: 1.5 }
  },
  { type: 'text', x: 41, y: 43, style: { text: 'A', fontFamily: SERIF, fontWeight: 'bold', fontSize: 31, fill: '#111', align: 'center', verticalAlign: 'middle' } },
  { type: 'text', x: 668, y: 43, style: { text: 'B', fontFamily: SERIF, fontWeight: 'bold', fontSize: 31, fill: '#111', align: 'center', verticalAlign: 'middle' } },
  xTitle(353, 424, '', 22.5),
  xTitle(995, 424, ' ', 20.3),
  yTitle(52, 202, 'γ ', 21),
  yTitle(677, 200, 'γ′', 21)
].concat(captionLines.map((t, k) => ({
  type: 'text', x: 27, y: 466 + 23 * k,
  style: {
    text: t.replace(/(^|\})([^{]+)/g, (m, a, b) => a + '{r|' + b + '}'),
    rich: capRich, align: 'left', verticalAlign: 'middle'
  }
})));

const dot = { symbolSize: 3, itemStyle: { color: '#ff2424' }, silent: true };

const chart = echarts.init(document.getElementById('chart'));
chart.setOption({
  animation: false,
  backgroundColor: '#fff',
  grid: [
    { left: 105, top: 45, width: 532, height: 330 },
    { left: 721, top: 44, width: 542, height: 334 },
    { left: 162, top: 71, width: 159, height: 97 },
    { left: 782, top: 73, width: 158, height: 99 }
  ],
  xAxis: xAxes,
  yAxis: yAxes,
  graphic: graphics,
  series: [
    Object.assign({ type: 'scatter', xAxisIndex: 0, yAxisIndex: 0, data: scatterAEdge.concat(scatterACore, scatterACentre) }, dot),
    Object.assign({ type: 'scatter', xAxisIndex: 4, yAxisIndex: 4, data: scatterBEdge.concat(scatterBCore, scatterBCentre) }, dot),
    { type: 'line', xAxisIndex: 8, yAxisIndex: 8, data: insetA, showSymbol: false, lineStyle: { color: '#2d4da6', width: 2.5 } },
    { type: 'line', xAxisIndex: 12, yAxisIndex: 12, data: insetB, showSymbol: false, lineStyle: { color: '#2d4da6', width: 2.5 } }
  ]
});
</script>
</body>
</html>
